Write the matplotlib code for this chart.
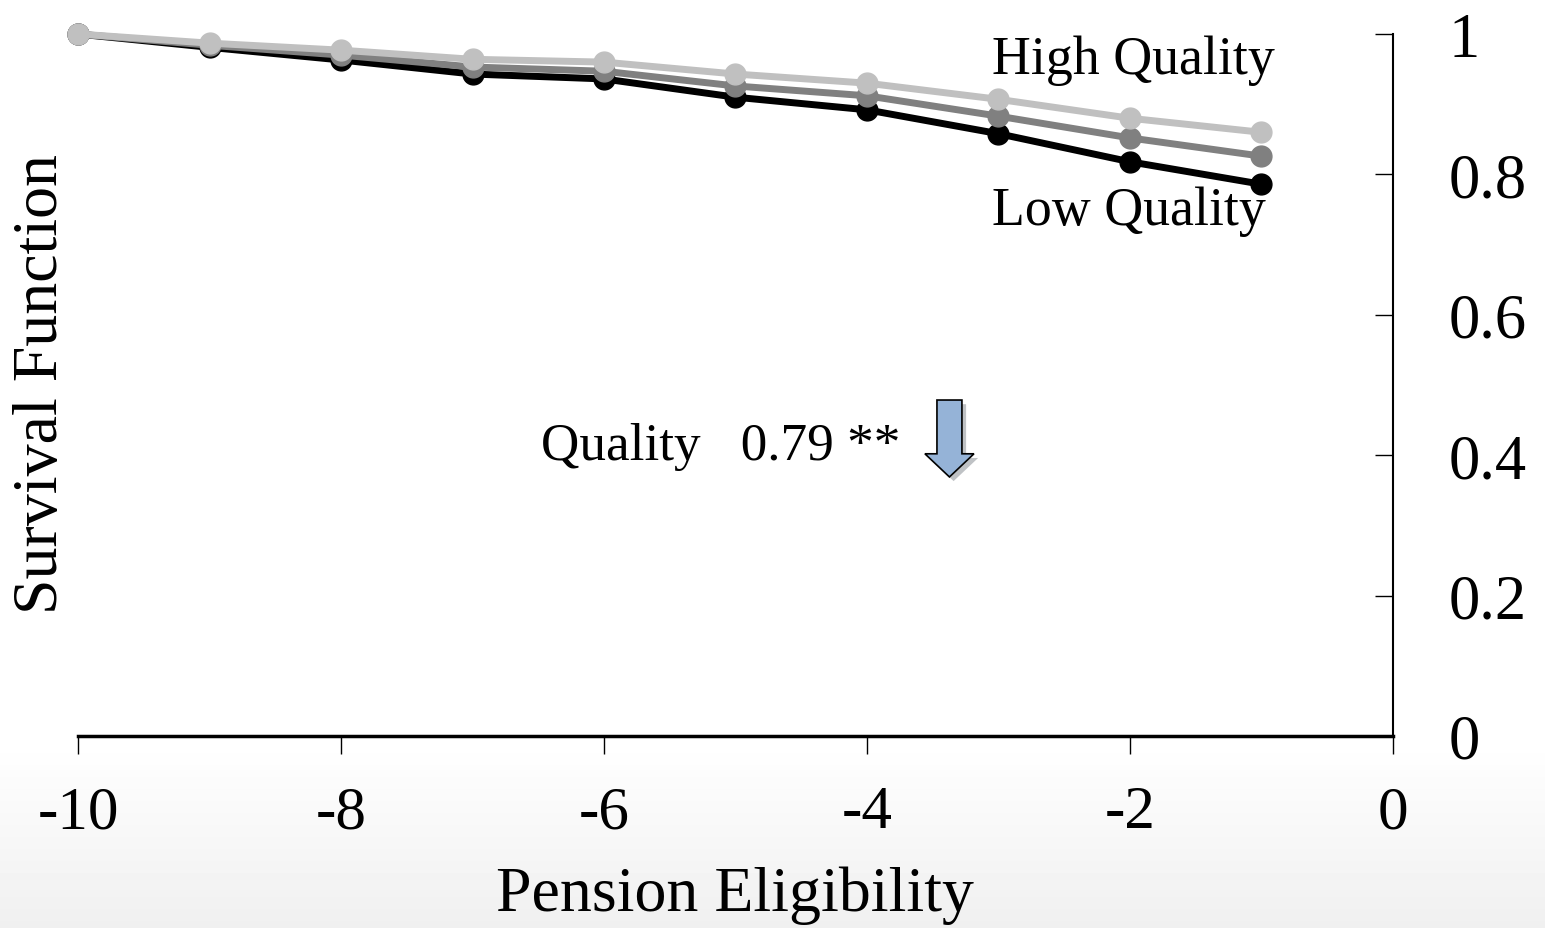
import numpy as np
import matplotlib
matplotlib.use("Agg")
import matplotlib.pyplot as plt
import matplotlib.patheffects as pe
from matplotlib.patches import FancyArrow

plt.rcParams["font.family"] = ["Liberation Serif", "DejaVu Serif"]

# years relative to pension eligibility
years = [-10, -9, -8, -7, -6, -5, -4, -3, -2, -1]

# survival by school quality
surv_low = [1.0, 0.981, 0.963, 0.943, 0.936, 0.910, 0.892, 0.858, 0.818, 0.786]
surv_mid = [1.0, 0.984, 0.970, 0.953, 0.947, 0.926, 0.912, 0.883, 0.852, 0.826]
surv_high = [1.0, 0.987, 0.977, 0.964, 0.960, 0.943, 0.930, 0.907, 0.880, 0.860]

x_ticks = [-10, -8, -6, -4, -2, 0]
y_ticks = [0, 0.2, 0.4, 0.6, 0.8, 1]
y_tick_labels = ["0", "0.2", "0.4", "0.6", "0.8", "1"]

fig = plt.figure(figsize=(15.45, 9.29), dpi=100)

# faint grey fade at the bottom of the slide
bg = fig.add_axes([0, 0, 1, 1], zorder=-10)
ramp = np.linspace(0.0, 1.0, 200)
grad = np.where(ramp < 0.2, 0.94 + 0.06 * (ramp / 0.2), 1.0)[:, None] * np.ones((1, 2))
bg.imshow(grad, cmap="gray", vmin=0, vmax=1, aspect="auto", origin="lower",
          extent=[0, 1, 0, 1], interpolation="bilinear")
bg.axis("off")

ax = fig.add_axes([0.0505, 0.2067, 0.8511, 0.7556])
ax.patch.set_alpha(0)

for ys, col in [(surv_low, "black"), (surv_mid, "#808080"), (surv_high, "#c0c0c0")]:
    ax.plot(years, ys, color=col, linewidth=5, marker="o", markersize=15,
            clip_on=False)

ax.set_xlim(-10, 0)
ax.set_ylim(0, 1)

ax.spines["top"].set_visible(False)
ax.spines["left"].set_visible(False)
ax.spines["right"].set_linewidth(1.5)
ax.spines["bottom"].set_linewidth(2.5)

ax.set_xticks(x_ticks)
ax.set_xticklabels([str(t) for t in x_ticks])
ax.tick_params(axis="x", direction="out", length=13, width=1, labelsize=44, pad=22)

ax.yaxis.tick_right()
ax.set_yticks(y_ticks)
ax.set_yticklabels(y_tick_labels)
ax.tick_params(axis="y", direction="in", length=13, width=1, labelsize=45, pad=40)

fig.text(0.027, 0.587, "Survival Function", rotation=90, fontsize=46,
         ha="center", va="center")
fig.text(0.476, 0.036, "Pension Eligibility", fontsize=46, ha="center", va="center")

ax.text(-3.05, 0.964, "High Quality", fontsize=38.8, ha="left", va="center")
ax.text(-3.05, 0.748, "Low Quality", fontsize=38.8, ha="left", va="center")
ax.text(-6.48, 0.413, "Quality   0.79 **", fontsize=38.3, ha="left", va="center")

arrow = FancyArrow(-3.373, 0.4786, 0, -0.1096, width=0.19, head_width=0.373,
                   head_length=0.033, length_includes_head=True,
                   facecolor="#95b3d7", edgecolor="black", linewidth=1.2,
                   path_effects=[pe.SimplePatchShadow(offset=(3, -3), alpha=0.3),
                                 pe.Normal()])
ax.add_patch(arrow)

fig.savefig("out.png", dpi=100)
